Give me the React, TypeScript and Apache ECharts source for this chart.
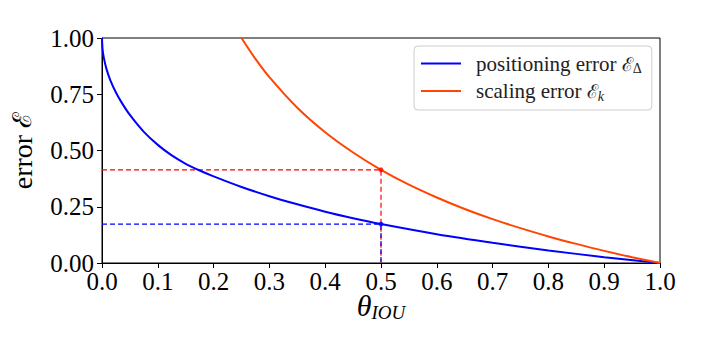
import React, { useEffect, useRef } from "react";
import * as echarts from "echarts";

// IoU threshold values and corresponding errors
const positioningTheta = [0, 0.001, 0.003, 0.0077, 0.015, 0.025, 0.035, 0.05, 0.075, 0.1, 0.125, 0.15, 0.175, 0.2, 0.25, 0.3, 0.35, 0.4, 0.45, 0.5, 0.6, 0.7, 0.8, 0.9, 1.0];
const positioningError = [1.0, 0.951, 0.916, 0.865, 0.812, 0.758, 0.714, 0.658, 0.583, 0.525, 0.478, 0.441, 0.411, 0.385, 0.338, 0.297, 0.261, 0.228, 0.199, 0.173, 0.128, 0.09, 0.056, 0.026, 0.0];

const scalingTheta = [0.25, 0.275, 0.3, 0.35, 0.4, 0.45, 0.5, 0.55, 0.6, 0.65, 0.7, 0.75, 0.8, 0.85, 0.9, 0.95, 1.0];
const scalingError = [1.0, 0.907, 0.826, 0.69, 0.581, 0.491, 0.414, 0.348, 0.291, 0.24, 0.195, 0.155, 0.118, 0.085, 0.054, 0.026, 0.0];

const markerTheta = 0.5;
const markerPositioning = 0.173;
const markerScaling = 0.414;

const xTicks = [0, 0.1, 0.2, 0.3, 0.4, 0.5, 0.6, 0.7, 0.8, 0.9, 1.0];
const yTicks = [0, 0.25, 0.5, 0.75, 1.0];

const SERIF = "'Liberation Serif', 'DejaVu Serif', serif";

export default function App() {
  const ref = useRef<HTMLDivElement>(null);

  useEffect(() => {
    document.body.style.margin = "0";
    if (!ref.current) return;
    const chart = echarts.init(ref.current, null, { renderer: "svg" });

    const posData = positioningTheta.map((t, i) => [t, positioningError[i]]);
    const scaleData = scalingTheta.map((t, i) => [t, scalingError[i]]);

    chart.setOption({
      animation: false,
      backgroundColor: "#ffffff",
      grid: {
        left: 98,
        right: 46,
        top: 38,
        bottom: 90,
        show: true,
        borderColor: "#000000",
        borderWidth: 1,
        backgroundColor: "transparent",
      },
      legend: {
        orient: "vertical",
        left: 414,
        top: 46,
        padding: [7, 10, 7, 7],
        itemGap: 5,
        itemWidth: 40,
        itemHeight: 2,
        icon: "rect",
        backgroundColor: "rgba(255,255,255,0.8)",
        borderColor: "#cccccc",
        borderWidth: 1,
        borderRadius: 4,
        data: ["positioning error", "scaling error"],
        formatter: (name: string) =>
          name === "positioning error"
            ? "{t|positioning error }{m|ℰ}{d|Δ}"
            : "{t|scaling error }{m|ℰ}{s|k}",
        textStyle: {
          fontFamily: SERIF,
          fontSize: 21,
          color: "#222222",
          padding: [0, 0, 0, 10],
          rich: {
            t: { fontFamily: SERIF, fontSize: 21, color: "#222222", lineHeight: 24 },
            m: { fontFamily: "'DejaVu Serif', serif", fontSize: 19, color: "#222222", lineHeight: 24 },
            d: { fontFamily: SERIF, fontSize: 14, color: "#222222", padding: [10, 0, 0, 0] },
            s: { fontFamily: SERIF, fontSize: 14, fontStyle: "italic", color: "#222222", padding: [10, 0, 0, 0] },
          },
        },
      },
      xAxis: {
        type: "value",
        min: 0,
        max: 1,
        interval: 0.1,
        name: "{th|θ}{sub|IOU}",
        nameLocation: "middle",
        nameGap: 26,
        nameMoveOverlap: false,
        nameTextStyle: {
          rich: {
            th: { fontFamily: SERIF, fontSize: 30, fontStyle: "italic", color: "#000" },
            sub: { fontFamily: SERIF, fontSize: 19, fontStyle: "italic", color: "#000", padding: [14, 0, 0, 0] },
          },
        },
        axisLine: { show: true, lineStyle: { color: "#000", width: 1 } },
        axisTick: { show: true, inside: false, length: 5, lineStyle: { color: "#000" } },
        axisLabel: {
          fontFamily: SERIF,
          fontSize: 25,
          color: "#000",
          margin: 6,
          formatter: (v: number) => (xTicks.some((t) => Math.abs(t - v) < 1e-9) ? v.toFixed(1) : ""),
        },
        splitLine: { show: false },
      },
      yAxis: {
        type: "value",
        min: 0,
        max: 1,
        interval: 0.25,
        name: "{e|error }{m|ℰ}",
        nameLocation: "middle",
        nameRotate: 90,
        nameGap: 66,
        nameMoveOverlap: false,
        nameTextStyle: {
          rich: {
            e: { fontFamily: SERIF, fontSize: 28, color: "#000" },
            m: { fontFamily: "'DejaVu Serif', serif", fontSize: 26, color: "#000" },
          },
        },
        axisLine: { show: true, lineStyle: { color: "#000", width: 1 } },
        axisTick: { show: true, inside: false, length: 5, lineStyle: { color: "#000" } },
        axisLabel: {
          fontFamily: SERIF,
          fontSize: 25,
          color: "#000",
          margin: 8,
          formatter: (v: number) => (yTicks.some((t) => Math.abs(t - v) < 1e-9) ? v.toFixed(2) : ""),
        },
        splitLine: { show: false },
      },
      series: [
        {
          name: "scaling guide",
          type: "line",
          data: [
            [0, markerScaling],
            [markerTheta, markerScaling],
            [markerTheta, 0],
          ],
          symbol: "none",
          lineStyle: { color: "#ff0000", width: 1.2, type: [5, 3] },
          z: 2,
        },
        {
          name: "positioning guide",
          type: "line",
          data: [
            [0, markerPositioning],
            [markerTheta, markerPositioning],
            [markerTheta, 0],
          ],
          symbol: "none",
          lineStyle: { color: "#0000ff", width: 1.2, type: [5, 3] },
          z: 3,
        },
        {
          name: "positioning error",
          type: "line",
          data: posData,
          symbol: "none",
          smooth: 0.3,
          color: "#0000ff",
          lineStyle: { color: "#0000ff", width: 2 },
          z: 4,
        },
        {
          name: "scaling error",
          type: "line",
          data: scaleData,
          symbol: "none",
          smooth: 0.3,
          color: "#ff4500",
          lineStyle: { color: "#ff4500", width: 2 },
          z: 4,
        },
        {
          name: "markers",
          type: "scatter",
          data: [
            { value: [markerTheta, markerScaling], itemStyle: { color: "#ff0000" } },
            { value: [markerTheta, markerPositioning], itemStyle: { color: "#0000ff" } },
          ],
          symbol: "circle",
          symbolSize: 5,
          z: 5,
        },
      ],
    });

    return () => chart.dispose();
  }, []);

  return <div ref={ref} style={{ width: 706, height: 353 }} />;
}
